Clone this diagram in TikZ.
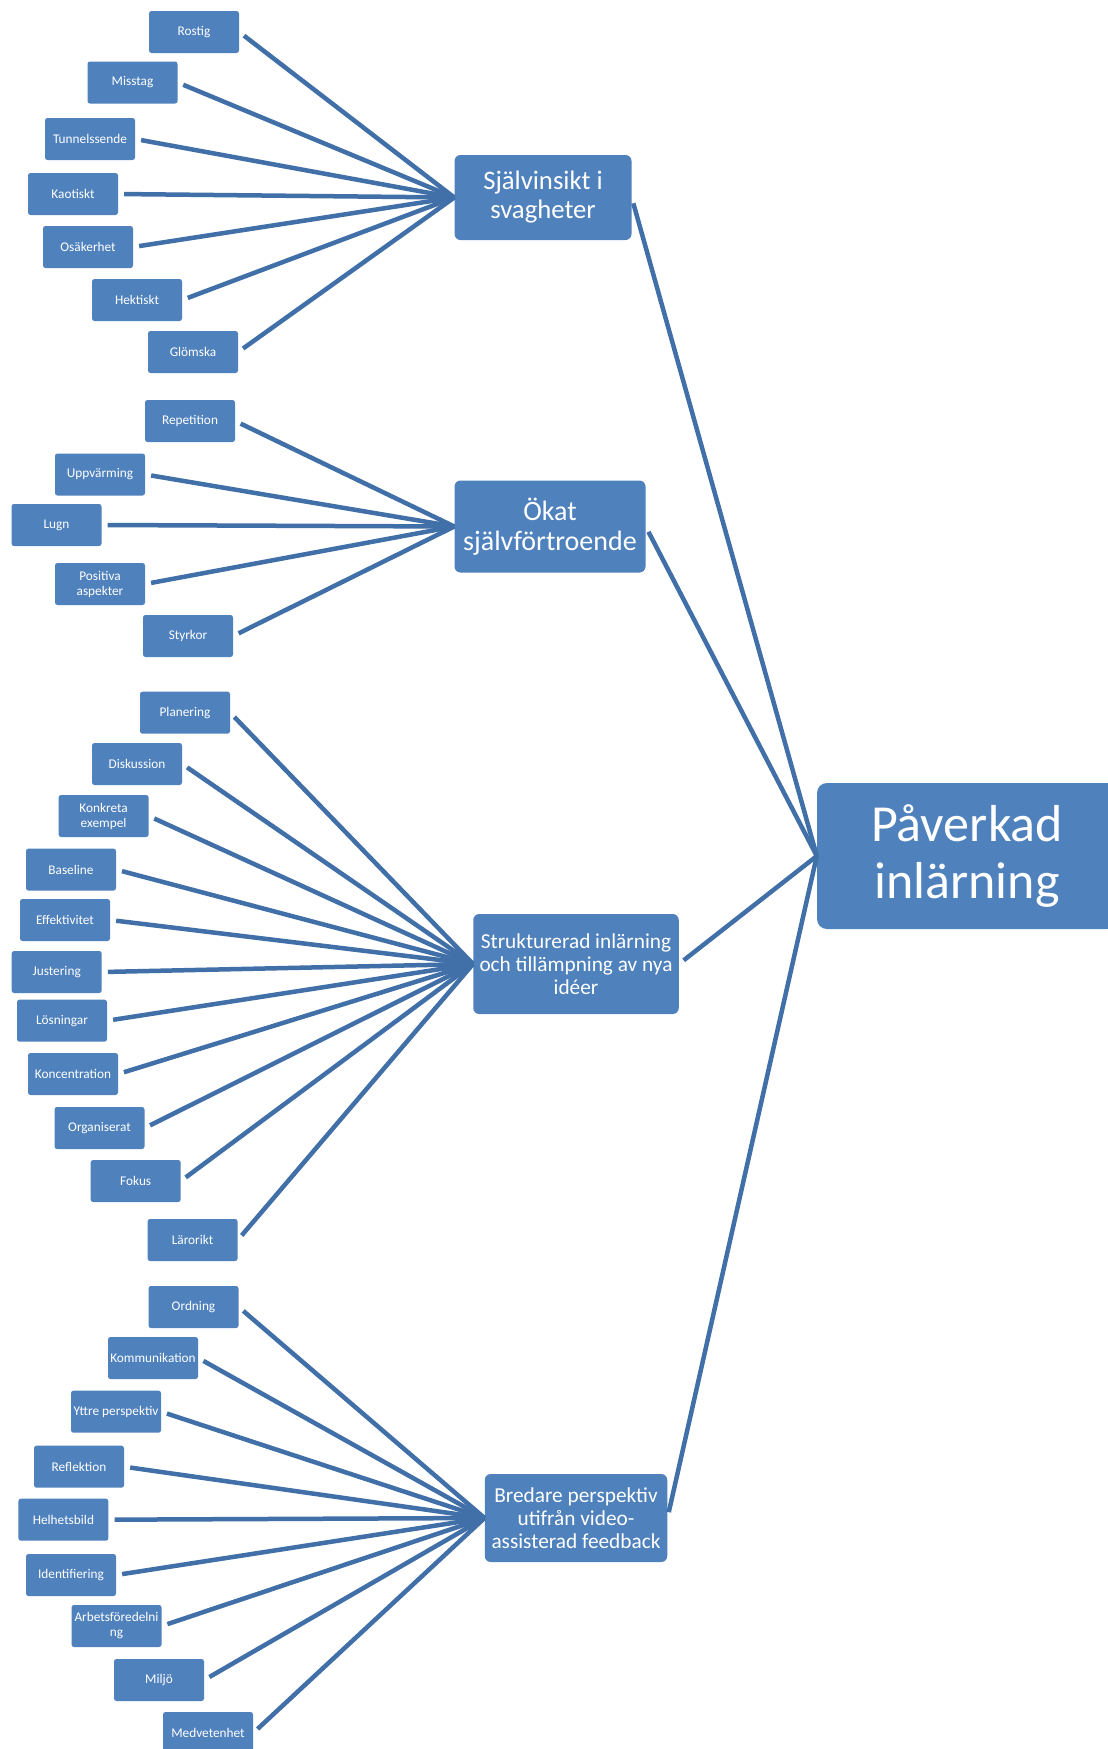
\documentclass[tikz,border=0pt]{standalone}
\usepackage{fontspec}
\setmainfont{Carlito}
\definecolor{boxblue}{HTML}{4F81BD}
\definecolor{lineblue}{HTML}{416FA8}
\begin{document}
\begin{tikzpicture}[x=1pt,y=-1pt,
  leaf/.style={draw=none,fill=boxblue,rounded corners=2.5pt,minimum width=90pt,minimum height=42pt,
    inner sep=0pt,align=center,text=white,font=\fontsize{13.3}{15}\selectfont},
  cat/.style={draw=none,fill=boxblue,rounded corners=6pt,inner sep=0pt,align=center,text=white},
  mainbox/.style={draw=none,fill=boxblue,rounded corners=10pt,inner sep=0pt,align=center,text=white,
    font=\fontsize{52}{57.6}\selectfont},
  leafline/.style={draw=lineblue,line width=4.5pt,shorten <=6pt},
  mainline/.style={draw=lineblue,line width=4.5pt,shorten <=6pt}]
\clip (0,0) rectangle (1108,1749);
\fill[white] (0,0) rectangle (1108,1749);

% main
\node[mainbox,minimum width=300pt,minimum height=146pt] (main) at (967,856) {Påverkad\\inlärning};

% categories
\node[cat,minimum width=177pt,minimum height=85pt,font=\fontsize{26.7}{29}\selectfont] (sjalv) at (543,197.5) {Självinsikt i\\svagheter};
\node[cat,minimum width=191pt,minimum height=92pt,font=\fontsize{28}{30}\selectfont] (okat) at (550,526.5) {Ökat\\självförtroende};
\node[cat,minimum width=205.5pt,minimum height=100pt,font=\fontsize{21.3}{23}\selectfont] (strukt) at (576,964) {Strukturerad inlärning\\och tillämpning av nya\\idéer};
\node[cat,minimum width=182.5pt,minimum height=88pt,font=\fontsize{21.3}{23}\selectfont] (bredare) at (576,1518) {Bredare perspektiv\\utifrån video-\\assisterad feedback};

% group 1
\node[leaf] (rostig) at (194,32) {Rostig};
\node[leaf] (misstag) at (132.5,82.5) {Misstag};
\node[leaf] (tunnel) at (90,139) {Tunnelssende};
\node[leaf] (kaotiskt) at (73,194) {Kaotiskt};
\node[leaf] (osakerhet) at (88,247) {Osäkerhet};
\node[leaf] (hektiskt) at (137,300) {Hektiskt};
\node[leaf] (glomska) at (193,352) {Glömska};

% group 2
\node[leaf] (repetition) at (190,421) {Repetition};
\node[leaf] (uppvarming) at (100,474.5) {Uppvärming};
\node[leaf] (lugn) at (56.5,525) {Lugn};
\node[leaf] (positiva) at (100,584) {Positiva\\aspekter};
\node[leaf] (styrkor) at (188,636) {Styrkor};

% group 3
\node[leaf] (planering) at (185,712.7) {Planering};
\node[leaf] (diskussion) at (137,764) {Diskussion};
\node[leaf] (konkreta) at (103.6,816) {Konkreta\\exempel};
\node[leaf] (baseline) at (71,869.6) {Baseline};
\node[leaf] (effektivitet) at (65,920) {Effektivitet};
\node[leaf] (justering) at (56.7,972) {Justering};
\node[leaf] (losningar) at (62,1020.7) {Lösningar};
\node[leaf] (koncentration) at (73,1074) {Koncentration};
\node[leaf] (organiserat) at (99.5,1128) {Organiserat};
\node[leaf] (fokus) at (135.7,1181) {Fokus};
\node[leaf] (lararikt) at (192.6,1240) {Lärorikt};

% group 4
\node[leaf] (ordning) at (193.5,1307) {Ordning};
\node[leaf] (kommunikation) at (153,1358) {Kommunikation};
\node[leaf] (yttre) at (116,1411.7) {Yttre perspektiv};
\node[leaf] (reflektion) at (79,1466.7) {Reflektion};
\node[leaf] (helhetsbild) at (63.4,1519.7) {Helhetsbild};
\node[leaf] (identifiering) at (71,1575) {Identifiering};
\node[leaf] (arbets) at (116.5,1626) {Arbetsföredelni\\ng};
\node[leaf] (miljo) at (159,1680) {Miljö};
\node[leaf] (medvetenhet) at (208,1733) {Medvetenhet};

% connectors
\foreach \n in {rostig,misstag,tunnel,kaotiskt,osakerhet,hektiskt,glomska}
  \draw[leafline] (\n.east) -- (sjalv.west);
\foreach \n in {repetition,uppvarming,lugn,positiva,styrkor}
  \draw[leafline] (\n.east) -- (okat.west);
\foreach \n in {planering,diskussion,konkreta,baseline,effektivitet,justering,losningar,koncentration,organiserat,fokus,lararikt}
  \draw[leafline] (\n.east) -- (strukt.west);
\foreach \n in {ordning,kommunikation,yttre,reflektion,helhetsbild,identifiering,arbets,miljo,medvetenhet}
  \draw[leafline] (\n.east) -- (bredare.west);
\foreach \n in {sjalv,okat,strukt,bredare}
  \draw[mainline] (\n.east) -- (main.west);
\end{tikzpicture}
\end{document}
